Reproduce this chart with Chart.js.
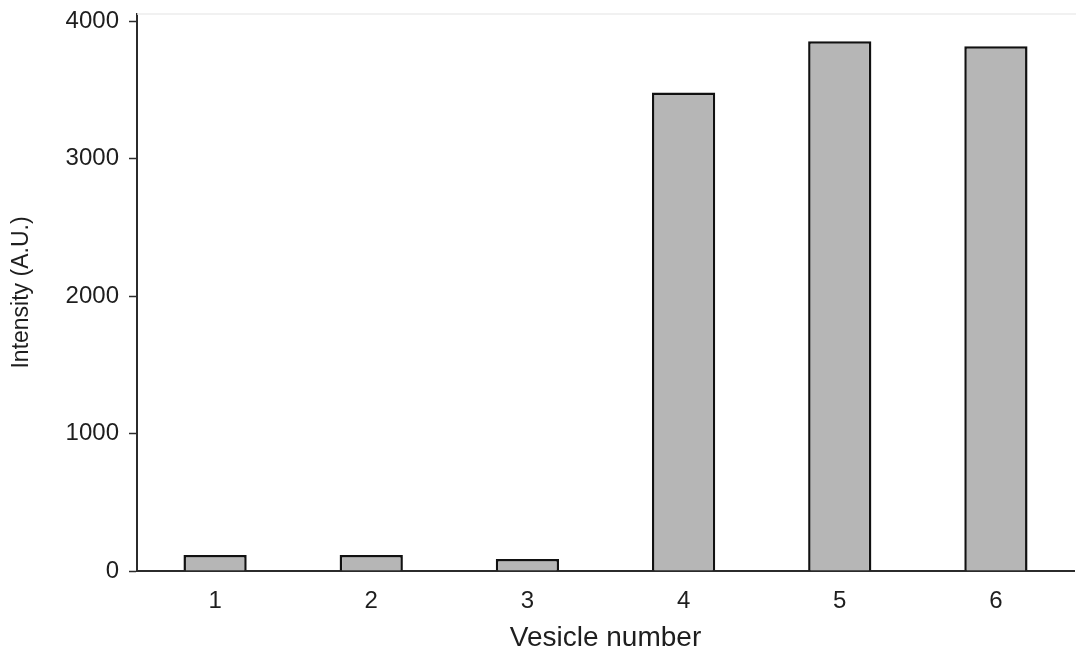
<!DOCTYPE html>
<html>
<head>
<meta charset="utf-8">
<script src="https://cdn.jsdelivr.net/npm/chart.js@4.4.1/dist/chart.umd.min.js"></script>
<style>
  html, body { margin: 0; padding: 0; background: #fff; }
  #wrap { width: 1076px; height: 652px; position: relative; }
</style>
</head>
<body>
<div id="wrap"><canvas id="chart"></canvas></div>
<script>
// vesicle intensities
const vesicles = ["1", "2", "3", "4", "5", "6"];
const intensity = [117, 117, 87, 3480, 3853, 3816];
const yTicks = [0, 1000, 2000, 3000, 4000];

const FONT = "'Liberation Sans', Arial, sans-serif";
const AXIS = "#2b2b2b";
const TEXT = "#1e1e1e";

// faint frame line along the top of the plot area
const topLine = {
  id: "topLine",
  beforeDatasetsDraw(chart) {
    const { ctx, chartArea: a } = chart;
    ctx.save();
    ctx.strokeStyle = "#ececec";
    ctx.lineWidth = 1.5;
    ctx.beginPath();
    ctx.moveTo(a.left, a.top);
    ctx.lineTo(a.right + 4, a.top);
    ctx.stroke();
    ctx.restore();
  }
};

new Chart(document.getElementById("chart"), {
  type: "bar",
  data: {
    labels: vesicles,
    datasets: [{
      data: intensity,
      backgroundColor: "#b6b6b6",
      borderColor: "#111",
      borderWidth: 2.5,
      categoryPercentage: 1,
      barPercentage: 0.405
    }]
  },
  options: {
    responsive: true,
    maintainAspectRatio: false,
    animation: false,
    layout: { padding: { top: 14, right: 2, left: 0, bottom: 0 } },
    plugins: { legend: { display: false }, tooltip: { enabled: false } },
    scales: {
      x: {
        grid: { display: false },
        border: { color: AXIS, width: 2 },
        ticks: { color: TEXT, font: { family: FONT, size: 24 }, padding: 8 },
        title: {
          display: true, text: "Vesicle number", color: TEXT,
          font: { family: FONT, size: 28 }, padding: { top: 4, bottom: -3 }
        },
        afterFit(s) { s.height = 81; }
      },
      y: {
        min: 0,
        max: 4051,
        afterBuildTicks(s) { s.ticks = yTicks.map(v => ({ value: v })); },
        grid: { drawOnChartArea: false, tickLength: 8, tickColor: AXIS, tickWidth: 1.5 },
        border: { color: AXIS, width: 2 },
        ticks: {
          color: TEXT, font: { family: FONT, size: 24 }, padding: 10,
          callback: v => String(v)
        },
        title: {
          display: true, text: "Intensity (A.U.)", color: TEXT,
          font: { family: FONT, size: 23 }, padding: { top: 8, bottom: 0 }
        },
        afterFit(s) {
          s.width = 137;
          s.paddingTop = 0;
          s.paddingBottom = 0;
        }
      }
    }
  },
  plugins: [topLine]
});
</script>
</body>
</html>
